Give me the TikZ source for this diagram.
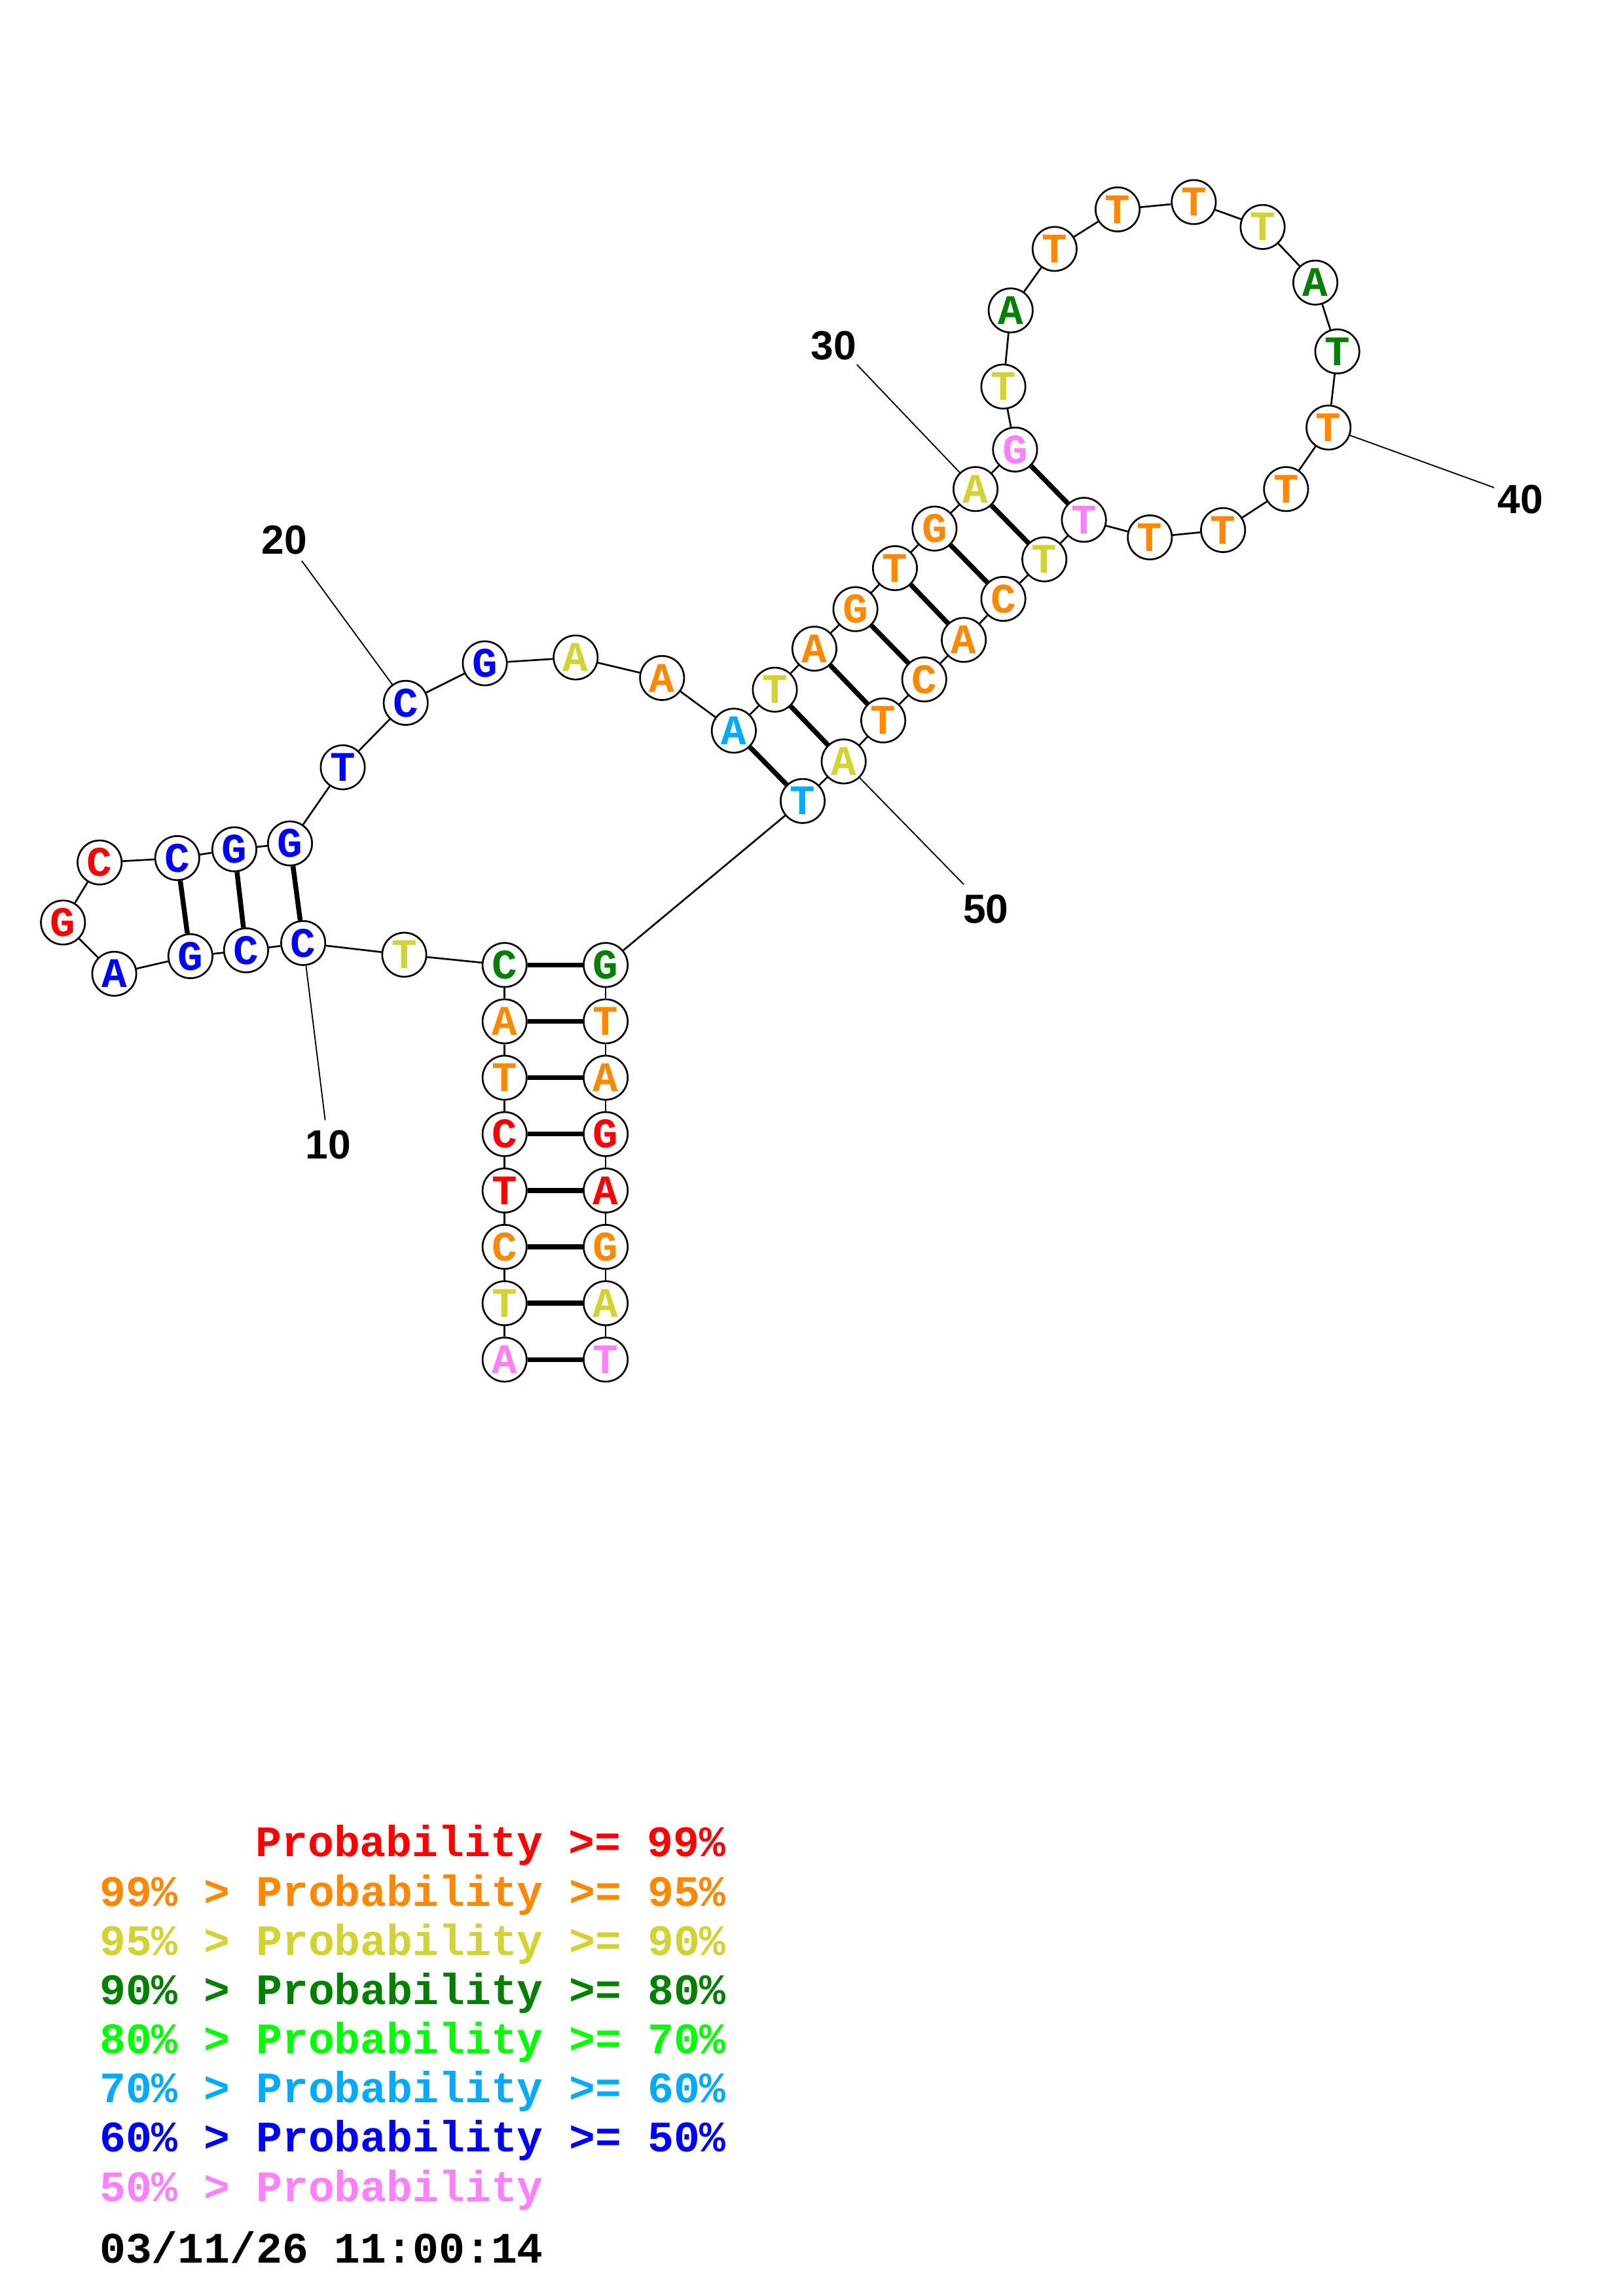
\documentclass[tikz,border=0pt]{standalone}
\usepackage{fontspec}
\newfontfamily\basefont{Liberation Mono}
\newfontfamily\numfont{Liberation Sans}
\definecolor{pred}{RGB}{255,0,0}
\definecolor{porange}{RGB}{255,136,0}
\definecolor{pyellow}{RGB}{210,210,50}
\definecolor{pdkgreen}{RGB}{0,128,0}
\definecolor{pgreen}{RGB}{0,255,0}
\definecolor{pcyan}{RGB}{0,170,255}
\definecolor{pblue}{RGB}{0,0,255}
\definecolor{ppink}{RGB}{255,128,255}
\begin{document}
\begin{tikzpicture}[x=0.189413mm,y=-0.189413mm,
		base/.style={circle,draw,line width=0.65pt,fill=white,minimum size=5.7mm,inner sep=0pt,
			font=\basefont\bfseries\fontsize{15.5}{15.5}\selectfont},
		backbone/.style={line width=0.65pt},
		bond/.style={line width=1.8pt},
		tick/.style={line width=0.45pt},
		numlabel/.style={font=\numfont\bfseries\fontsize{15}{15}\selectfont},
		legend/.style={anchor=base west,font=\basefont\bfseries\fontsize{16}{16}\selectfont}]
	\useasboundingbox (0,0) rectangle (1108,1568);

	\foreach \i/\x/\y/\b/\c in {
			1/344.5/928.5/A/ppink, 2/344.5/890/T/pyellow, 3/344.5/851.5/C/porange,
			4/344.5/813/T/pred, 5/344.5/774.5/C/pred, 6/344.5/736/T/porange,
			7/344.5/697.5/A/porange, 8/344.5/659/C/pdkgreen, 9/276/652/T/pyellow,
			10/207/644/C/pblue, 11/168/649/C/pblue, 12/130/653/G/pblue,
			13/78/665/A/pblue, 14/43/630/G/pred, 15/68/589/C/pred,
			16/121/586/C/pblue, 17/160/580/G/pblue, 18/198/576/G/pblue,
			19/234/524/T/pblue, 20/277/480/C/pblue, 21/331/453/G/pblue,
			22/393/449/A/pyellow, 23/452/463/A/porange, 24/501/499/A/pcyan,
			25/529/471/T/pyellow, 26/556/443/A/porange, 27/584/416/G/porange,
			28/611/388/T/porange, 29/638/361/G/porange, 30/666/334/A/pyellow,
			31/693/307/G/ppink, 32/685/264/T/pyellow, 33/690/212/A/pdkgreen,
			34/720/170/T/porange, 35/763/143/T/porange, 36/815/138/T/porange,
			37/862/155/T/pyellow, 38/898/193/A/pdkgreen, 39/913/240/T/pdkgreen,
			40/907/292/T/porange, 41/878/334/T/porange, 42/835/362/T/porange,
			43/785/367/T/porange, 44/740/355/T/ppink, 45/713/382/T/pyellow,
			46/685/409/C/porange, 47/658/437/A/porange, 48/631/464/C/porange,
			49/603/492/T/porange, 50/576/520/A/pyellow, 51/548/547/T/pcyan,
			52/413.5/659/G/pdkgreen, 53/413.5/697.5/T/porange, 54/413.5/736/A/porange,
			55/413.5/774.5/G/pred, 56/413.5/813/A/pred, 57/413.5/851.5/G/porange,
			58/413.5/890/A/pyellow, 59/413.5/928.5/T/ppink}
		\node[base,text=\c] (n\i) at (\x,\y) {\b};

	\foreach \i [count=\j from 2] in {1,...,58}
		\draw[backbone] (n\i) -- (n\j);
	\foreach \a/\b in {1/59,2/58,3/57,4/56,5/55,6/54,7/53,8/52,10/18,11/17,12/16,
			24/51,25/50,26/49,27/48,28/47,29/46,30/45,31/44}
		\draw[bond] (n\a) -- (n\b);

	\foreach \i/\x/\y/\lx/\ly in {10/222/765/224/782, 20/206/383/194/369,
			30/585/249/569/236, 40/1020/333/1038/341, 50/658/604/673/621} {
		\coordinate (e\i) at (\x,\y);
		\node[numlabel] (l\i) at (\lx,\ly) {\i};
		\draw[tick] (n\i) -- (e\i);
	}

	\node[legend,text=pred] (p99) at (168,1268) {Probability >= 99\%};
	\node[legend,text=porange] (p95) at (61.5,1301.6) {99\% > Probability >= 95\%};
	\node[legend,text=pyellow] (p90) at (61.5,1335.2) {95\% > Probability >= 90\%};
	\node[legend,text=pdkgreen] (p80) at (61.5,1368.8) {90\% > Probability >= 80\%};
	\node[legend,text=pgreen] (p70) at (61.5,1402.4) {80\% > Probability >= 70\%};
	\node[legend,text=pcyan] (p60) at (61.5,1436) {70\% > Probability >= 60\%};
	\node[legend,text=pblue] (p50) at (61.5,1469.6) {60\% > Probability >= 50\%};
	\node[legend,text=ppink] (p00) at (61.5,1503.2) {50\% > Probability};
	\node[legend] (date) at (61.5,1545.5) {03/11/26 11:00:14};
\end{tikzpicture}
\end{document}
